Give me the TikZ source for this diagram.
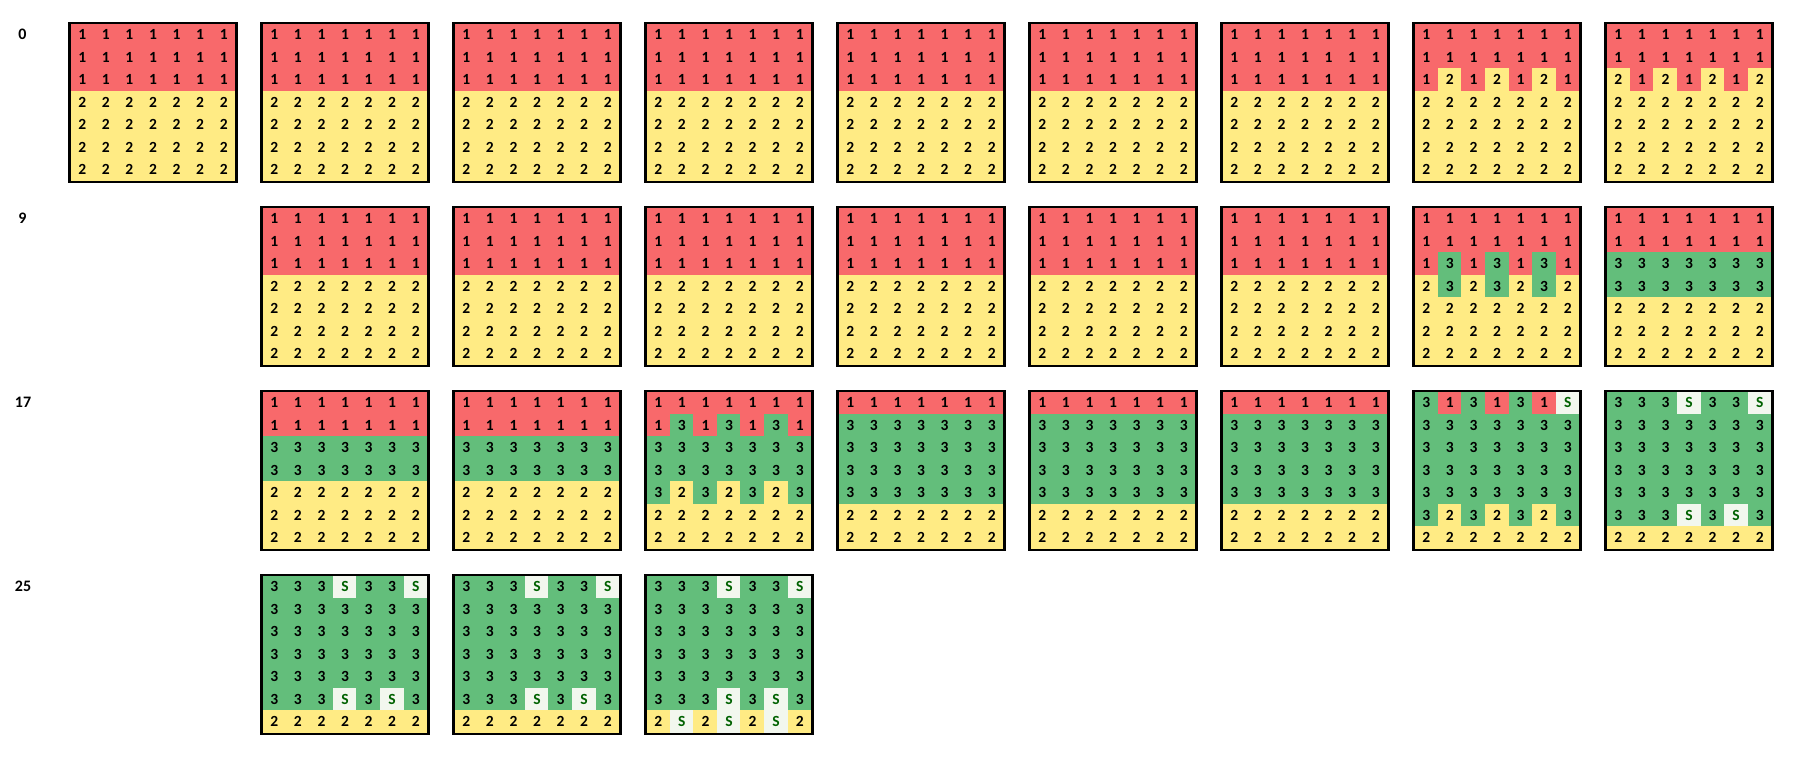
\documentclass[tikz,border=0pt]{standalone}
\usepackage{fontspec}
\newfontfamily\cfont{Carlito}
\definecolor{cR}{HTML}{F8696B}
\definecolor{cY}{HTML}{FFEB84}
\definecolor{cG}{HTML}{63BE7B}
\definecolor{cSf}{HTML}{F2F7EE}
\definecolor{cSt}{HTML}{006100}
\def\cw{23.57}
\def\ch{22.47}
\tikzset{
  cellbase/.style={inner sep=0pt, outer sep=0pt, minimum width=\cw pt, minimum height=\ch pt, line width=0.6pt,
    font=\cfont\bfseries\fontsize{15.5}{17}\selectfont},
  c1/.style={cellbase, fill=cR, draw=cR},
  c2/.style={cellbase, fill=cY, draw=cY},
  c3/.style={cellbase, fill=cG, draw=cG},
  cS/.style={cellbase, fill=cSf, draw=cSf, text=cSt},
  frame/.style={draw=black, line width=2.2pt, inner sep=0pt, outer sep=0pt, anchor=north west},
  lbl/.style={inner sep=0pt, font=\cfont\bfseries\fontsize{16}{18}\selectfont}
}
\def\gcell#1#2{\node[c#2] (\gname-\ri-#1) at ({\gx+(#1+0.5)*\cw}, {\gy+(\ri+0.5)*\ch}) {#2};}
\def\gridrowi#1#2#3#4#5#6#7{\gcell{0}{#1}\gcell{1}{#2}\gcell{2}{#3}\gcell{3}{#4}\gcell{4}{#5}\gcell{5}{#6}\gcell{6}{#7}}
\def\gridrow#1#2{\def\ri{#1}\gridrowi#2}
\newcommand\grid[9]{%
  \pgfmathsetmacro\gx{70.5+192*#1}%
  \pgfmathsetmacro\gy{23.7+184*#2}%
  \def\gname{g#2#1}%
  \gridrow{0}{#3}\gridrow{1}{#4}\gridrow{2}{#5}\gridrow{3}{#6}\gridrow{4}{#7}\gridrow{5}{#8}\gridrow{6}{#9}%
  \node[frame, minimum width={7*\cw+2}, minimum height={7*\ch+2}] (\gname) at ({\gx-1},{\gy-1}) {};%
}
\begin{document}
\begin{tikzpicture}[x=1pt, y=-1pt]
\useasboundingbox[fill=white] (0,0) rectangle (1798,759);
% labels
\node[lbl] (l0) at (22.5,34.5) {0};
\node[lbl] (l9) at (22.5,218.5) {9};
\node[lbl] (l17) at (23,402.5) {17};
\node[lbl] (l25) at (23,586.5) {25};
% row 0
\foreach \c in {0,...,6}{\grid{\c}{0}{1111111}{1111111}{1111111}{2222222}{2222222}{2222222}{2222222}}
\grid{7}{0}{1111111}{1111111}{1212121}{2222222}{2222222}{2222222}{2222222}
\grid{8}{0}{1111111}{1111111}{2121212}{2222222}{2222222}{2222222}{2222222}
% row 1
\foreach \c in {1,...,6}{\grid{\c}{1}{1111111}{1111111}{1111111}{2222222}{2222222}{2222222}{2222222}}
\grid{7}{1}{1111111}{1111111}{1313131}{2323232}{2222222}{2222222}{2222222}
\grid{8}{1}{1111111}{1111111}{3333333}{3333333}{2222222}{2222222}{2222222}
% row 2
\foreach \c in {1,2}{\grid{\c}{2}{1111111}{1111111}{3333333}{3333333}{2222222}{2222222}{2222222}}
\grid{3}{2}{1111111}{1313131}{3333333}{3333333}{3232323}{2222222}{2222222}
\foreach \c in {4,5,6}{\grid{\c}{2}{1111111}{3333333}{3333333}{3333333}{3333333}{2222222}{2222222}}
\grid{7}{2}{313131S}{3333333}{3333333}{3333333}{3333333}{3232323}{2222222}
\grid{8}{2}{333S33S}{3333333}{3333333}{3333333}{3333333}{333S3S3}{2222222}
% row 3
\foreach \c in {1,2}{\grid{\c}{3}{333S33S}{3333333}{3333333}{3333333}{3333333}{333S3S3}{2222222}}
\grid{3}{3}{333S33S}{3333333}{3333333}{3333333}{3333333}{333S3S3}{2S2S2S2}
\end{tikzpicture}
\end{document}
